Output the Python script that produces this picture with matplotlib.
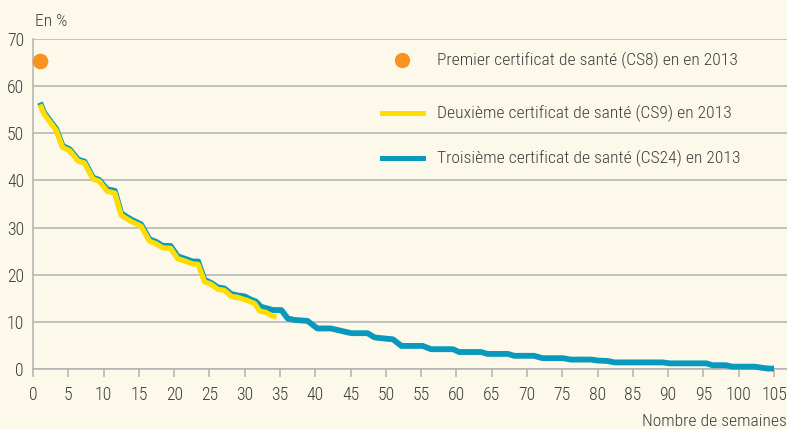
import numpy as np
import matplotlib
matplotlib.use('Agg')
import matplotlib.pyplot as plt
from matplotlib.lines import Line2D

plt.rcParams['font.family'] = ['Roboto Condensed', 'DejaVu Sans']
plt.rcParams['font.weight'] = 'light'

# Data
cs8_week = [1]
cs8_pct = [65.3]

cs24_weeks = [1, 1.6, 3.3, 4.2, 5.2, 6.4, 7.3, 8.5, 9.4, 10.5, 11.6, 12.5, 13.9, 15.3,
              16.5, 17.4, 18.4, 19.5, 20.5, 21.7, 22.6, 23.4, 24.3, 25.2, 26.2, 27.1,
              28.1, 29.0, 30.0, 30.9, 31.6, 32.3, 33.3, 34.0, 35.2, 36.1, 37.1, 38.9,
              40.3, 42.2, 45.1, 47.4, 48.4, 49.6, 51.0, 52.2, 55.2, 56.4, 59.5, 60.4,
              63.5, 64.4, 67.3, 68.2, 71.0, 72.2, 75.1, 76.2, 79.1, 80.0, 81.4, 82.4,
              89.2, 90.2, 95.4, 96.3, 98.2, 99.1, 102.2, 104.1, 105]
cs24_pct = [56.5, 54.3, 50.9, 47.3, 46.6, 44.4, 44.0, 40.6, 40.1, 38.1, 37.8, 33.0, 31.7, 30.7,
            27.5, 27.0, 26.1, 26.1, 23.9, 23.3, 22.8, 22.8, 18.9, 18.3, 17.3, 17.1,
            15.9, 15.6, 15.4, 14.7, 14.3, 13.2, 12.8, 12.5, 12.5, 10.7, 10.4, 10.2,
            8.6, 8.6, 7.6, 7.6, 6.7, 6.5, 6.3, 4.9, 4.9, 4.2, 4.2, 3.6,
            3.6, 3.2, 3.2, 2.8, 2.8, 2.3, 2.3, 2.0, 2.0, 1.8, 1.7, 1.4,
            1.4, 1.2, 1.2, 0.8, 0.8, 0.5, 0.5, 0.1, 0.1]

cs9_weeks = [1, 1.6, 3.3, 4.2, 5.2, 6.4, 7.3, 8.5, 9.4, 10.5, 11.6, 12.5, 13.9, 15.3,
             16.5, 17.4, 18.4, 19.5, 20.5, 21.7, 22.6, 23.4, 24.3, 25.2, 26.2, 27.1,
             28.1, 29.0, 30.4, 31.4, 32.1, 33.0, 33.7, 34.5]
cs9_pct = [56.1, 54.0, 50.6, 47.0, 46.3, 44.1, 43.7, 40.3, 39.8, 37.7, 37.3, 32.6, 31.3, 30.3,
           27.1, 26.6, 25.7, 25.6, 23.4, 22.8, 22.3, 22.2, 18.5, 18.0, 16.9, 16.7,
           15.4, 15.2, 14.5, 13.9, 12.3, 12.0, 11.4, 11.0]

labels = ['Premier certificat de santé (CS8) en en 2013',
          'Deuxième certificat de santé (CS9) en 2013',
          'Troisième certificat de santé (CS24) en 2013']

x_ticks = np.arange(0, 106, 5)
y_ticks = np.arange(0, 71, 10)

BG = '#fdf9ea'
ORANGE = '#f7931e'
YELLOW = '#ffdd00'
BLUE = '#0899bd'
GRID = '#b2b2b2'
TXT = '#3c3c3c'
FS = 12.6

W, H = 787, 429
fig = plt.figure(figsize=(W / 100, H / 100), dpi=100, facecolor=BG)
ax = fig.add_axes([33 / W, (H - 369) / H, (W - 33) / W, 330 / H], facecolor=BG)

ax.set_xlim(0, (W - 33) / 7.057)
ax.set_ylim(0, 70)

ax.plot(cs24_weeks, cs24_pct, color=BLUE, lw=4.2, solid_joinstyle='round',
        solid_capstyle='butt', clip_on=False, zorder=3)
ax.plot(cs9_weeks, cs9_pct, color=YELLOW, lw=3.8, solid_joinstyle='round',
        solid_capstyle='butt', clip_on=False, zorder=4)
ax.plot(cs8_week, cs8_pct, 'o', color=ORANGE, ms=11.3, mec='none', clip_on=False, zorder=5)

# grid + axes styling
ax.set_yticks(y_ticks)
ax.set_xticks(x_ticks)
ax.yaxis.grid(True, color=GRID, lw=1.1)
ax.set_axisbelow(True)
for s in ['top', 'right']:
    ax.spines[s].set_visible(False)
for s in ['left', 'bottom']:
    ax.spines[s].set_color(GRID)
    ax.spines[s].set_linewidth(1.1)
ax.tick_params(axis='y', length=0, pad=6.5, labelsize=FS + 0.2, labelcolor=TXT)
ax.tick_params(axis='x', length=5.8, width=1.1, color=GRID, direction='out',
               pad=6.5, labelsize=FS + 0.2, labelcolor=TXT)

# manual legend, rows sitting between grid lines
rows_y = [0.9364, 0.7758, 0.6394]
ax.add_line(Line2D([0.4894], [rows_y[0]], marker='o', ms=11, color=ORANGE, mec='none',
                   transform=ax.transAxes))
ax.add_line(Line2D([0.4629, 0.5172], [rows_y[1]] * 2, color=YELLOW, lw=3.6,
                   transform=ax.transAxes))
ax.add_line(Line2D([0.4629, 0.5172], [rows_y[2]] * 2, color=BLUE, lw=3.6,
                   transform=ax.transAxes))
for yy, lab in zip(rows_y, labels):
    ax.text(0.5358, yy, lab, transform=ax.transAxes, fontsize=FS, color=TXT,
            va='center', ha='left')

fig.text(35 / W, 1 - 21 / H, 'En %', fontsize=FS, color=TXT, va='center', ha='left')
fig.text(1.0, 1 - 422 / H, 'Nombre de semaines', fontsize=FS, color=TXT,
         va='center', ha='right')

fig.savefig('out.png', dpi=100, facecolor=BG)
